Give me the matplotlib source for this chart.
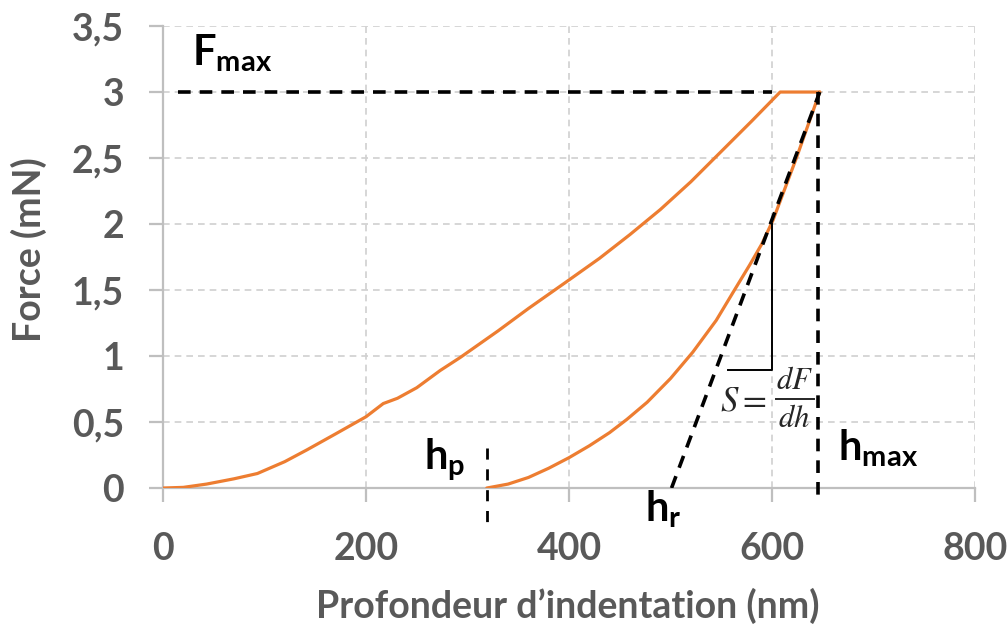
import numpy as np
import matplotlib
matplotlib.use("Agg")
import matplotlib.pyplot as plt

# ---------- data ----------
load_x = [0, 20, 43, 70, 93, 120, 142, 170, 200, 217, 231, 250, 273, 293,
          330, 360, 397, 430, 460, 490, 520, 550, 580, 608, 647]
load_y = [0, 0.005, 0.03, 0.07, 0.11, 0.20, 0.29, 0.41, 0.54, 0.64, 0.68, 0.76,
          0.89, 0.99, 1.19, 1.36, 1.56, 1.74, 1.92, 2.11, 2.32, 2.55, 2.78, 3.0, 3.0]

unload_x = [319, 340, 360, 380, 400, 420, 440, 457, 477, 500, 522, 545, 563,
            578, 590, 601, 624, 647]
unload_y = [0, 0.03, 0.08, 0.15, 0.23, 0.32, 0.42, 0.52, 0.65, 0.83, 1.03, 1.27,
            1.50, 1.69, 1.85, 2.03, 2.50, 3.0]

f_max = 3.0
h_max = 645
h_p = 319
h_r = 501
# slope triangle corners
tri_x = [557, 600, 600]
tri_y = [0.894, 0.894, 2.0]

x_ticks = [0, 200, 400, 600, 800]
y_ticks = [0, 0.5, 1, 1.5, 2, 2.5, 3, 3.5]
y_tick_labels = ["0", "0,5", "1", "1,5", "2", "2,5", "3", "3,5"]

ORANGE = "#ED7D31"
GRAY_TXT = "#595959"
GRID = "#D0D0D0"
SPINE = "#BFBFBF"
FORMULA = "#262626"

plt.rcParams["font.family"] = ["Lato", "DejaVu Sans"]
plt.rcParams["mathtext.fontset"] = "custom"
plt.rcParams["mathtext.rm"] = "Lato:bold"
plt.rcParams["mathtext.it"] = "Lato:bold"
plt.rcParams["mathtext.bf"] = "Lato:bold"

fig = plt.figure(figsize=(10.08, 6.32), dpi=100)
ax = fig.add_axes([0.1617, 0.2278, 0.8056, 0.731])

# curves
ax.plot(load_x, load_y, color=ORANGE, lw=2.3, solid_capstyle="round",
        solid_joinstyle="round", zorder=3)
ax.plot(unload_x, unload_y, color=ORANGE, lw=2.3, solid_capstyle="round",
        solid_joinstyle="round", zorder=3)

# construction lines
dash = dict(color="black", lw=2.6, dashes=(3.5, 2.5), zorder=4)
ax.plot([15, 600], [f_max, f_max], **dash)
ax.plot([h_r, 647], [0, f_max], **dash)
ax.plot([h_max, h_max], [f_max, -0.11], clip_on=False, **dash)
ax.plot([h_p, h_p], [0.30, -0.30], color="black", lw=2.0, dashes=(4, 3.5),
        clip_on=False, zorder=4)
ax.plot(tri_x, tri_y, color="black", lw=1.4, zorder=4)

# annotations
ann = dict(fontsize=30, color="black", ha="left", va="baseline")
ax.text(29, 3.2, r"$\mathrm{F}_{\mathrm{max}}$", **ann)
ax.text(257, 0.14, r"$\mathrm{h}_{\mathrm{p}}$", **ann)
ax.text(475, -0.25, r"$\mathrm{h}_{\mathrm{r}}$", clip_on=False, **ann)
ax.text(665, 0.21, r"$\mathrm{h}_{\mathrm{max}}$", **ann)

# stiffness formula S = dF/dh
ax.text(549, 0.665, r"$S=$", fontsize=25, color=FORMULA, ha="left",
        va="center", math_fontfamily="stix")
ax.plot([604, 641], [0.675, 0.675], color=FORMULA, lw=1.4, zorder=4)
ax.text(622, 0.71, r"$dF$", fontsize=22, color=FORMULA, ha="center",
        va="bottom", math_fontfamily="stix")
ax.text(622, 0.64, r"$dh$", fontsize=22, color=FORMULA, ha="center",
        va="top", math_fontfamily="stix")

# axes styling
ax.set_xlim(0, 800)
ax.set_ylim(0, 3.5)
ax.set_xticks(x_ticks)
ax.set_yticks(y_ticks)
ax.set_yticklabels(y_tick_labels)
ax.grid(True, color=GRID, lw=1.2, ls=(0, (4, 3)))
ax.set_axisbelow(True)
for side in ["top", "right"]:
    ax.spines[side].set_visible(False)
for side in ["left", "bottom"]:
    ax.spines[side].set_color(SPINE)
    ax.spines[side].set_linewidth(1.6)
ax.tick_params(axis="both", colors=SPINE, width=1.6, length=10,
               labelcolor=GRAY_TXT, labelsize=27)
ax.tick_params(axis="y", pad=18)
ax.tick_params(axis="x", pad=22)
for lab in ax.get_xticklabels() + ax.get_yticklabels():
    lab.set_fontweight("bold")

ax.set_xlabel("Profondeur d\u2019indentation (nm)", fontsize=27,
              fontweight="bold", color=GRAY_TXT)
ax.set_ylabel("Force (mN)", fontsize=27, fontweight="bold", color=GRAY_TXT)
ax.xaxis.set_label_coords(0.499, -0.215)
ax.yaxis.set_label_coords(-0.143, 0.515)

fig.savefig("out.png", dpi=100, facecolor="white")
